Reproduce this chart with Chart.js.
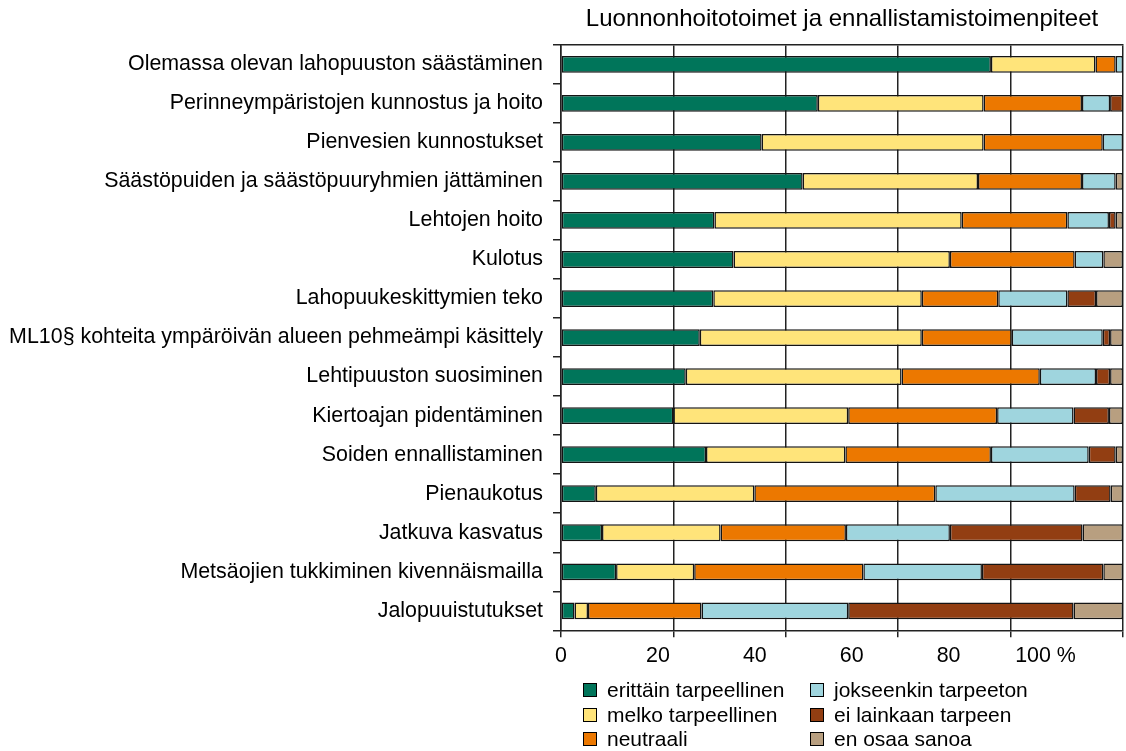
<!DOCTYPE html>
<html>
<head>
<meta charset="utf-8">
<script src="https://cdn.jsdelivr.net/npm/chart.js@4.4.1/dist/chart.umd.min.js"></script>
<style>
    html, body { margin: 0; padding: 0; background: #fff; }
    #wrap { position: relative; width: 1126px; height: 751px; }
    #legend {
        position: absolute; left: 583px; top: 678px;
        font: 21px 'Liberation Sans', Arial, sans-serif; color: #000;
        display: grid; grid-template-columns: 227px auto;
        grid-template-rows: repeat(3, 24.5px); grid-auto-flow: column;
    }
    .item { display: flex; align-items: center; white-space: nowrap; }
    .box { width: 12px; height: 12px; border: 1px solid #000; margin-right: 10px; }
</style>
</head>
<body>
<div id="wrap">
    <canvas id="natureChart" width="1126" height="751"></canvas>
    <div id="legend"></div>
</div>
<script>
const chartTitle = 'Luonnonhoitotoimet ja ennallistamistoimenpiteet';

const categories = [
    'Olemassa olevan lahopuuston säästäminen',
    'Perinneympäristojen kunnostus ja hoito',
    'Pienvesien kunnostukset',
    'Säästöpuiden ja säästöpuuryhmien jättäminen',
    'Lehtojen hoito',
    'Kulotus',
    'Lahopuukeskittymien teko',
    'ML10§ kohteita ympäröivän alueen pehmeämpi käsittely',
    'Lehtipuuston suosiminen',
    'Kiertoajan pidentäminen',
    'Soiden ennallistaminen',
    'Pienaukotus',
    'Jatkuva kasvatus',
    'Metsäojien tukkiminen kivennäismailla',
    'Jalopuuistutukset'
];

const seriesNames = [
    'erittäin tarpeellinen',
    'melko tarpeellinen',
    'neutraali',
    'jokseenkin tarpeeton',
    'ei lainkaan tarpeen',
    'en osaa sanoa'
];

const erittain = [76.5, 45.7, 35.7, 43.0, 27.3, 30.7, 27.1, 24.7, 22.2, 20.0, 25.8, 6.2, 7.3, 9.8, 2.4];
const melko = [18.6, 29.5, 39.5, 31.2, 44.0, 38.5, 37.1, 39.5, 38.4, 31.1, 24.8, 28.2, 21.1, 13.9, 2.4];
const neutraali = [3.6, 17.5, 21.2, 18.5, 18.8, 22.2, 13.6, 16.0, 24.6, 26.5, 25.9, 32.2, 22.3, 30.1, 20.2];
const jokseenkin = [1.3, 5.0, 3.6, 6.0, 7.4, 5.1, 12.3, 16.2, 10.0, 13.6, 17.4, 24.8, 18.5, 21.1, 26.1];
const eiLainkaan = [0, 2.3, 0, 0, 1.2, 0, 5.1, 1.3, 2.5, 6.3, 4.8, 6.4, 23.6, 21.6, 40.1];
const enOsaa = [0, 0, 0, 1.3, 1.3, 3.5, 4.8, 2.3, 2.3, 2.5, 1.3, 2.2, 7.2, 3.5, 8.8];

const xTickValues = [0, 20, 40, 60, 80, 100];

const colors = ['#00755a', '#ffe47a', '#ec7800', '#9fd5de', '#923e12', '#b89f80'];
const seriesData = [erittain, melko, neutraali, jokseenkin, eiLainkaan, enOsaa];

const font = { family: "'Liberation Sans', Arial, sans-serif", size: 21.4 };
const titleFont = { family: "'Liberation Sans', Arial, sans-serif", size: 24 };
const lineColor = '#222';

Chart.defaults.font.family = font.family;
Chart.defaults.color = '#000';

const ctx = document.getElementById('natureChart');

// eslint-disable-next-line no-unused-vars
const natureChart = new Chart(ctx, {
    type: 'bar',
    data: {
        labels: categories,
        datasets: seriesNames.map((name, i) => ({
            label: name,
            data: seriesData[i],
            backgroundColor: colors[i],
            borderColor: '#141414',
            borderWidth: 1.5,
            borderSkipped: false,
            barPercentage: 0.43,
            categoryPercentage: 1
        }))
    },
    options: {
        indexAxis: 'y',
        responsive: false,
        animation: false,
        layout: { padding: { left: 0, right: 3, top: 0, bottom: 76 } },
        plugins: {
            legend: { display: false },
            tooltip: { enabled: false }
        },
        scales: {
            x: {
                type: 'linear',
                position: 'top',
                stacked: true,
                min: 0,
                max: 100,
                ticks: { display: false, stepSize: 20 },
                grid: { color: lineColor, lineWidth: 1.5, drawTicks: false },
                border: { display: true, color: lineColor, width: 1.5 },
                title: {
                    display: true,
                    text: chartTitle,
                    font: titleFont,
                    color: '#000',
                    padding: { top: 5, bottom: 11 }
                }
            },
            xTicks: {
                type: 'linear',
                position: 'bottom',
                weight: 0,
                min: 0,
                max: 100,
                ticks: { display: false, stepSize: 20 },
                grid: { drawOnChartArea: false, drawTicks: true, tickLength: 7, color: lineColor, lineWidth: 1.5 },
                border: { display: true, color: lineColor, width: 1.5 }
            },
            // tick labels sit a little left of the grid in the original
            xLabels: {
                type: 'linear',
                position: 'bottom',
                weight: 1,
                min: 0,
                max: 116,
                afterBuildTicks: scale => {
                    scale.ticks = xTickValues.map(v => ({ value: v }));
                },
                ticks: {
                    font: font,
                    color: '#000',
                    padding: 6,
                    maxRotation: 0,
                    autoSkip: false,
                    callback: v => (v === 100 ? '100 %' : String(v))
                },
                grid: { display: false, drawTicks: false },
                border: { display: false }
            },
            y: {
                stacked: true,
                ticks: { font: font, color: '#000', padding: 10, autoSkip: false },
                grid: { drawOnChartArea: false, tickLength: 8, color: lineColor, lineWidth: 1.5 },
                border: { display: true, color: lineColor, width: 1.5 },
                afterFit: scale => { scale.width = 561; }
            }
        }
    }
});

const legendEl = document.getElementById('legend');
seriesNames.forEach((name, i) => {
    const item = document.createElement('div');
    item.className = 'item';
    const box = document.createElement('span');
    box.className = 'box';
    box.style.background = colors[i];
    item.appendChild(box);
    item.appendChild(document.createTextNode(name));
    legendEl.appendChild(item);
});
</script>
</body>
</html>
